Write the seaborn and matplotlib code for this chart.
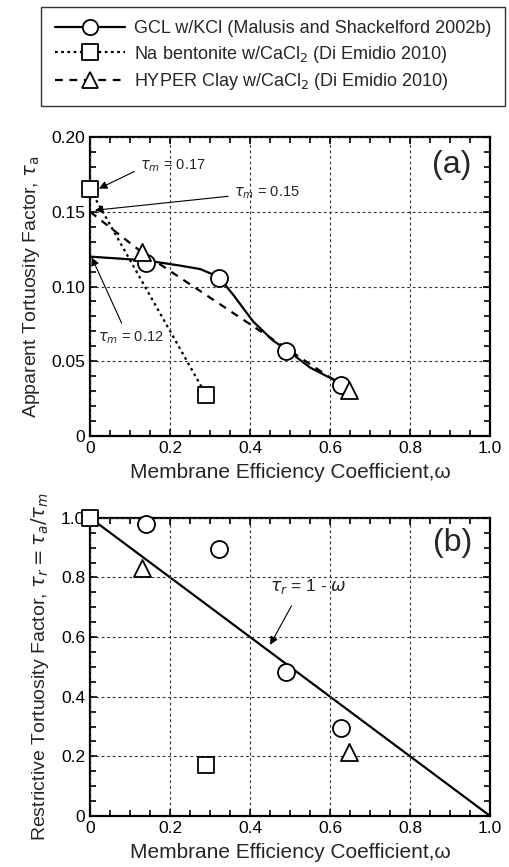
import numpy as np
import pandas as pd
import seaborn as sns
import matplotlib.pyplot as plt
from matplotlib.lines import Line2D
from matplotlib.ticker import MultipleLocator

# data
# panel (a): apparent tortuosity factor
gcl_w = [0.139, 0.321, 0.490, 0.628]
gcl_ta = [0.1155, 0.1057, 0.057, 0.0342]
gcl_curve_w = [0.0, 0.139, 0.225, 0.275, 0.321, 0.358, 0.408, 0.458, 0.49, 0.55, 0.592, 0.628]
gcl_curve_ta = [0.120, 0.1175, 0.1140, 0.1117, 0.1065, 0.0944, 0.0765, 0.0637, 0.058, 0.0458, 0.040, 0.0355]

na_w = [0.0, 0.29]
na_ta = [0.165, 0.0275]

hyper_w = [0.129, 0.646]
hyper_ta = [0.123, 0.031]
hyper_line_w = [0.0, 0.129, 0.646]
hyper_line_ta = [0.150, 0.123, 0.031]

# panel (b): restrictive tortuosity factor
gcl_tr = [0.978, 0.896, 0.483, 0.294]
na_tr = [1.0, 0.171]
hyper_tr = [0.830, 0.216]
theory_w = [0.0, 1.0]
theory_tr = [1.0, 0.0]

labels = ['GCL w/KCl (Malusis and Shackelford 2002b)',
          r'Na bentonite w/CaCl$_2$ (Di Emidio 2010)',
          r'HYPER Clay w/CaCl$_2$ (Di Emidio 2010)']

sns.set_style('ticks')
plt.rcParams['font.family'] = ['Liberation Sans', 'DejaVu Sans']
plt.rcParams['mathtext.fontset'] = 'dejavusans'

fig = plt.figure(figsize=(5.09, 8.67), dpi=100)
ax1 = fig.add_axes([0.177, 0.497, 0.786, 0.345])
ax2 = fig.add_axes([0.177, 0.0588, 0.786, 0.344])

mk = dict(facecolor='white', edgecolor='black', linewidth=1.3, zorder=5, legend=False, clip_on=False)

# (a)
sns.lineplot(x=gcl_curve_w, y=gcl_curve_ta, sort=False, estimator=None, color='black',
             linewidth=1.6, ax=ax1, legend=False)
sns.lineplot(x=na_w, y=na_ta, sort=False, estimator=None, color='black',
             linewidth=1.6, linestyle=(0, (1.2, 1.6)), ax=ax1, legend=False)
sns.lineplot(x=hyper_line_w, y=hyper_line_ta, sort=False, estimator=None, color='black',
             linewidth=1.6, linestyle=(0, (3.5, 3)), ax=ax1, legend=False)
sns.scatterplot(x=gcl_w, y=gcl_ta, marker='o', s=150, ax=ax1, **mk)
sns.scatterplot(x=na_w, y=na_ta, marker='s', s=140, ax=ax1, **mk)
sns.scatterplot(x=hyper_w, y=hyper_ta, marker='^', s=150, ax=ax1, **mk)

# (b)
sns.lineplot(x=theory_w, y=theory_tr, color='black', linewidth=1.6, ax=ax2, legend=False)
sns.scatterplot(x=gcl_w, y=gcl_tr, marker='o', s=150, ax=ax2, **mk)
sns.scatterplot(x=na_w, y=na_tr, marker='s', s=140, ax=ax2, **mk)
sns.scatterplot(x=hyper_w, y=hyper_tr, marker='^', s=150, ax=ax2, **mk)

xt = [0, 0.2, 0.4, 0.6, 0.8, 1.0]
xt_lab = ['0', '0.2', '0.4', '0.6', '0.8', '1.0']
for ax in (ax1, ax2):
    ax.set_xlim(0, 1.0)
    ax.set_xticks(xt)
    ax.set_xticklabels(xt_lab)
    ax.grid(True, which='major', linestyle=(0, (2.5, 2.5)), color='#333333', linewidth=0.8)
    for s in ax.spines.values():
        s.set_linewidth(1.6)
        s.set_color('black')
    ax.set_xlabel('Membrane Efficiency Coefficient,\u03c9', fontsize=15, labelpad=5)

ax1.set_ylim(0, 0.2)
ax1.set_yticks([0, 0.05, 0.10, 0.15, 0.20])
ax1.set_yticklabels(['0', '0.05', '0.10', '0.15', '0.20'])
ax1.set_ylabel(r'Apparent Tortuosity Factor, $\tau_{\rm a}$', fontsize=14, labelpad=7)

ax2.set_ylim(0, 1.0)
ax2.set_yticks(xt)
ax2.set_yticklabels(xt_lab)
ax2.set_ylabel(r'Restrictive Tortuosity Factor, $\tau_r = \tau_a/\tau_m$', fontsize=14, labelpad=7)

ax1.text(0.905, 0.906, '(a)', transform=ax1.transAxes, fontsize=23, ha='center', va='center')
ax2.text(0.907, 0.916, '(b)', transform=ax2.transAxes, fontsize=23, ha='center', va='center')

arrow = dict(arrowstyle='-|>', color='black', lw=0.8, mutation_scale=12, shrinkA=2, shrinkB=0)
ax1.annotate(r'$\tau_m$ = 0.17', xy=(0.022, 0.1655), xytext=(0.125, 0.181),
             fontsize=10.5, va='center', arrowprops=dict(arrow, relpos=(0.0, 0.3)))
ax1.annotate(r'$\tau_m$ = 0.15', xy=(0.012, 0.151), xytext=(0.36, 0.163),
             fontsize=10.5, va='center', arrowprops=dict(arrow, relpos=(0.0, 0.3)))
ax1.annotate(r'$\tau_m$ = 0.12', xy=(0.004, 0.1195), xytext=(0.02, 0.066),
             fontsize=10.5, va='center', arrowprops=dict(arrow, relpos=(0.4, 1.0)))
ax2.annotate(r'$\tau_r$ = 1 - $\omega$', xy=(0.45, 0.574), xytext=(0.545, 0.768),
             fontsize=12.5, ha='center', va='center',
             arrowprops=dict(arrow, relpos=(0.35, 0.0), shrinkA=5))

handles = [
    Line2D([], [], color='black', linewidth=1.6, marker='o', markersize=11,
           markerfacecolor='white', markeredgecolor='black', markeredgewidth=1.3),
    Line2D([], [], color='black', linewidth=1.6, linestyle=(0, (1.2, 1.6)), marker='s',
           markersize=11, markerfacecolor='white', markeredgecolor='black', markeredgewidth=1.3),
    Line2D([], [], color='black', linewidth=1.6, linestyle=(0, (3.5, 3)), marker='^',
           markersize=12, markerfacecolor='white', markeredgecolor='black', markeredgewidth=1.3),
]
leg = fig.legend(handles, labels, loc='upper left', bbox_to_anchor=(0.081, 0.992),
                 bbox_transform=fig.transFigure, fontsize=13, frameon=True, fancybox=False,
                 edgecolor='black', handlelength=3.9, handletextpad=0.5, numpoints=1,
                 borderpad=0.75, labelspacing=0.35, borderaxespad=0)
leg.get_frame().set_linewidth(1.0)

# ticks last, inward on all four sides
for ax, ymin in ((ax1, 0.01), (ax2, 0.05)):
    ax.set_axisbelow(False)
    ax.xaxis.set_minor_locator(MultipleLocator(0.05))
    ax.yaxis.set_minor_locator(MultipleLocator(ymin))
    ax.tick_params(which='both', direction='in', top=True, right=True, bottom=True, left=True,
                   color='black', width=1.2, labelsize=12.5, labelcolor='black')
    ax.tick_params(which='major', length=5)
    ax.tick_params(which='minor', length=4.5)
    for axis in (ax.xaxis, ax.yaxis):
        for ticks, ln in ((axis.get_major_ticks(), 5), (axis.get_minor_ticks(), 4.5)):
            for t in ticks:
                for tl in (t.tick1line, t.tick2line):
                    tl.set(visible=True, markersize=ln, markeredgewidth=1.2,
                           markeredgecolor='black', color='black', alpha=1, zorder=10)

fig.savefig('out.png', dpi=100)
